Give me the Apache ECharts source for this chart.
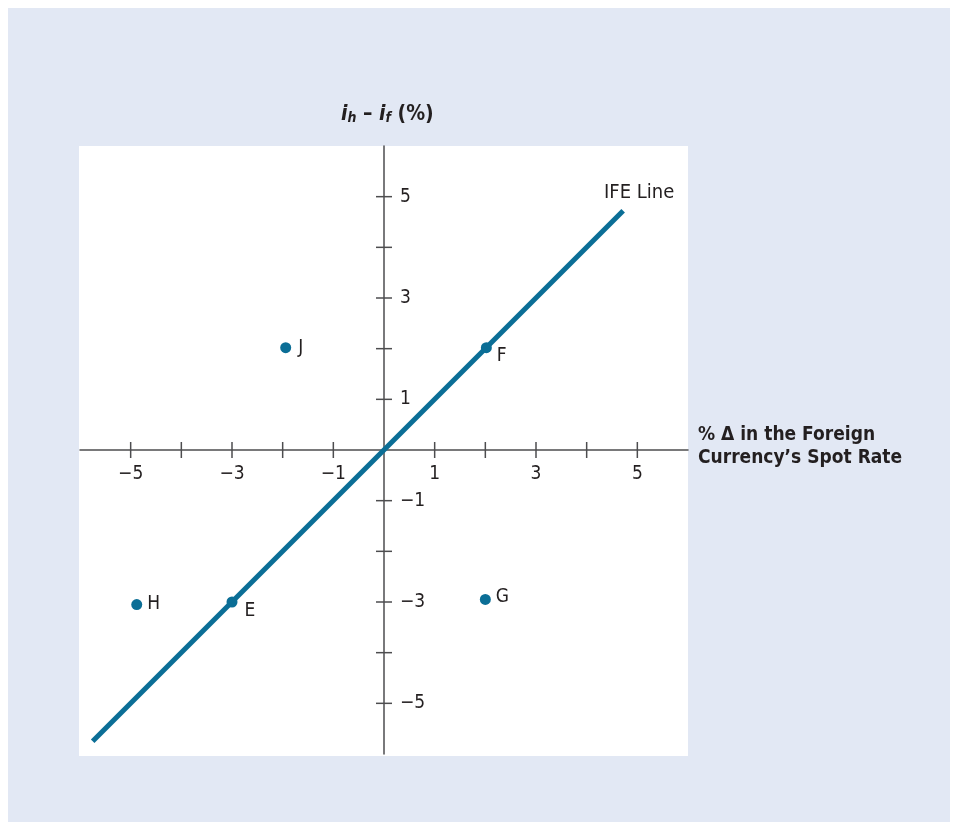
<!DOCTYPE html>
<html>
<head>
<meta charset="utf-8">
<script src="https://cdn.jsdelivr.net/npm/echarts@6/dist/echarts.min.js"></script>
<style>
  html, body { margin: 0; padding: 0; background: #ffffff; }
  #chart { width: 958px; height: 829px; }
</style>
</head>
<body>
<div id="chart"></div>
<script>
// Axis extent and tick values (percent)
const axisMin = -6;
const axisMax = 6;
const tickValues = [-5, -4, -3, -2, -1, 1, 2, 3, 4, 5];
const labeledTicks = [-5, -3, -1, 1, 3, 5];

// Labelled points
const pointNames = ['J', 'F', 'H', 'E', 'G'];
const pointX = [-1.94, 2.02, -4.88, -3, 2];
const pointY = [2.02, 2.02, -3.05, -3, -2.95];

// IFE line end points
const ifeLineX = [-5.75, 4.72];
const ifeLineY = [-5.75, 4.72];

const FONT = '"Liberation Sans Narrow", "DejaVu Sans Condensed", "Liberation Sans", sans-serif';
const TEXT = '#231f20';
const AXIS = '#4d4d4f';
const BLUE = '#0b6e96';

const fmt = v => (v < 0 ? '\u2212' + Math.abs(v) : String(v));

// Label placement for each point
const labelPos = {
  J: { position: 'right', offset: [2, 0] },
  F: { position: 'right', offset: [0, 8] },
  H: { position: 'right', offset: [0, 0] },
  E: { position: 'right', offset: [2, 9] },
  G: { position: 'right', offset: [0, -2] }
};

const chart = echarts.init(document.getElementById('chart'), null, { renderer: 'canvas' });

const pointData = pointNames.map((n, i) => ({
  name: n,
  value: [pointX[i], pointY[i]],
  label: Object.assign({
    show: true,
    formatter: n,
    fontFamily: FONT,
    fontSize: 19,
    color: TEXT,
    distance: 5
  }, labelPos[n])
}));

const option = {
  animation: false,
  graphic: [
    { type: 'rect', z: -10, shape: { x: 8, y: 8, width: 942, height: 814 }, style: { fill: '#e2e8f4' } },
    { type: 'rect', z: -9, shape: { x: 79, y: 146, width: 609, height: 610 }, style: { fill: '#ffffff' } },
    {
      type: 'text', left: 341, top: 104,
      style: {
        text: '{i|i}{s|h}{m| \u2013 }{i|i}{s|f}{m| (%)}',
        rich: {
          i: { fontFamily: FONT, fontSize: 21, fontWeight: 'bold', fontStyle: 'italic', fill: TEXT },
          s: { fontFamily: FONT, fontSize: 14, fontWeight: 'bold', fontStyle: 'italic', fill: TEXT, padding: [8, 0, 0, 0] },
          m: { fontFamily: FONT, fontSize: 21, fontWeight: 'bold', fill: TEXT }
        }
      }
    },
    {
      type: 'text', left: 698, top: 424,
      style: {
        text: '% \u0394 in the Foreign\nCurrency\u2019s Spot Rate',
        fontFamily: FONT, fontSize: 19, fontWeight: 'bold', fill: TEXT, lineHeight: 23
      }
    },
    {
      type: 'text', left: 604, top: 183,
      style: { text: 'IFE Line', fontFamily: FONT, fontSize: 20, fill: TEXT }
    }
  ],
  grid: { left: 80, top: 146, width: 608, height: 608, containLabel: false },
  xAxis: {
    type: 'value', min: axisMin, max: axisMax, interval: 1,
    splitLine: { show: false },
    axisLine: { onZero: true, lineStyle: { color: AXIS, width: 1.5 } },
    axisTick: { show: false },
    axisLabel: { show: false }
  },
  yAxis: {
    type: 'value', min: axisMin, max: axisMax, interval: 1,
    splitLine: { show: false },
    axisLine: { onZero: true, lineStyle: { color: AXIS, width: 1.5 } },
    axisTick: { show: false },
    axisLabel: { show: false }
  },
  series: [
    {
      // crossing tick marks and their labels on both axes
      type: 'custom',
      silent: true,
      z: 3,
      clip: false,
      data: tickValues.map(v => [v]),
      renderItem: (params, api) => {
        const v = api.value(0);
        const px = api.coord([v, 0]);
        const py = api.coord([0, v]);
        const st = { stroke: AXIS, lineWidth: 1.5 };
        const children = [
          { type: 'line', shape: { x1: px[0], y1: px[1] - 8, x2: px[0], y2: px[1] + 8 }, style: st },
          { type: 'line', shape: { x1: py[0] - 8, y1: py[1], x2: py[0] + 8, y2: py[1] }, style: st }
        ];
        if (labeledTicks.includes(v)) {
          const ts = { fontFamily: FONT, fontSize: 19, fill: TEXT };
          children.push({
            type: 'text',
            style: Object.assign({ text: fmt(v), x: px[0], y: px[1] + 24, align: 'center', verticalAlign: 'middle' }, ts)
          });
          children.push({
            type: 'text',
            style: Object.assign({ text: fmt(v), x: py[0] + 16, y: py[1], align: 'left', verticalAlign: 'middle' }, ts)
          });
        }
        return { type: 'group', children };
      }
    },
    {
      type: 'line',
      data: ifeLineX.map((x, i) => [x, ifeLineY[i]]),
      symbol: 'none',
      lineStyle: { color: BLUE, width: 5, cap: 'butt' },
      z: 4
    },
    {
      type: 'scatter',
      data: pointData,
      symbolSize: 11,
      itemStyle: { color: BLUE, opacity: 1 },
      z: 5
    }
  ]
};

chart.setOption(option);
</script>
</body>
</html>
